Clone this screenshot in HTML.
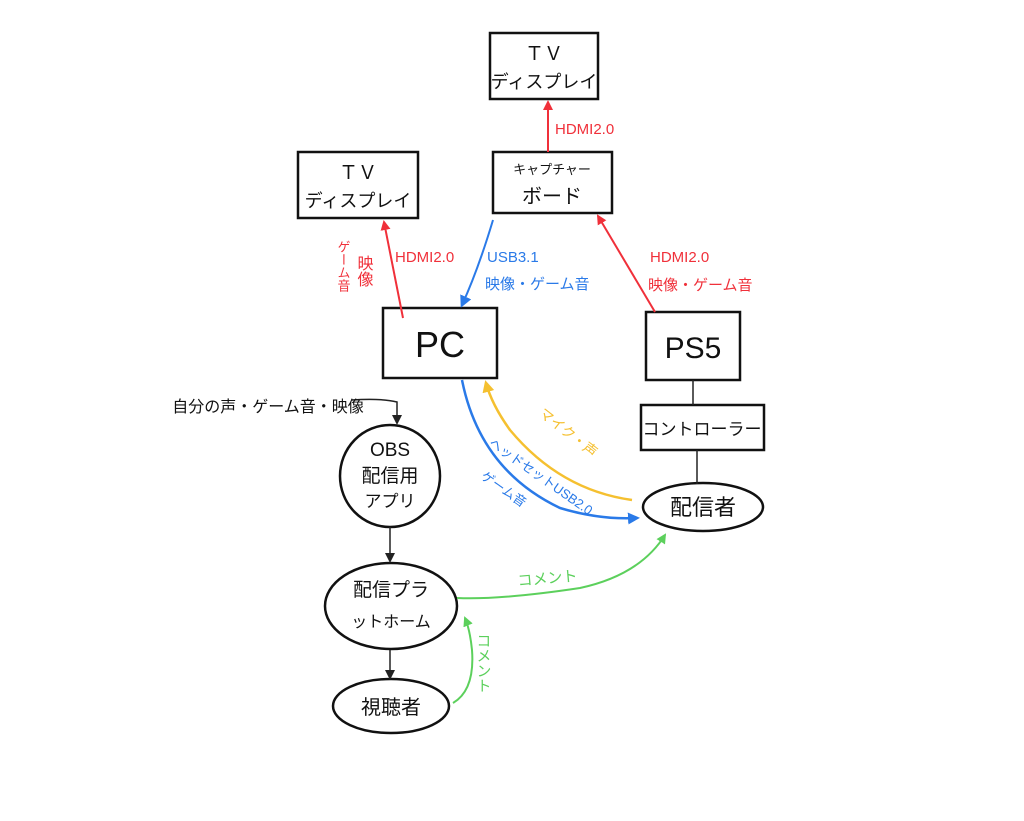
<!DOCTYPE html>
<html><head><meta charset="utf-8"><style>
html,body{margin:0;padding:0;background:#fff;}
svg{display:block;}
text{font-family:"Liberation Sans","Noto Sans CJK JP",sans-serif;}
</style></head><body>
<svg width="1024" height="821" viewBox="0 0 1024 821" xmlns="http://www.w3.org/2000/svg">
<defs>
<marker id="ar" markerWidth="10" markerHeight="10" refX="8" refY="5" orient="auto" markerUnits="userSpaceOnUse"><path d="M0,0 L10,5 L0,10 z" fill="#f0303a"/></marker>
<marker id="ab" markerWidth="12" markerHeight="12" refX="9" refY="6" orient="auto" markerUnits="userSpaceOnUse"><path d="M0,0 L12,6 L0,12 z" fill="#2a7ae8"/></marker>
<marker id="ay" markerWidth="12" markerHeight="12" refX="9" refY="6" orient="auto" markerUnits="userSpaceOnUse"><path d="M0,0 L12,6 L0,12 z" fill="#f5c030"/></marker>
<marker id="ag" markerWidth="10" markerHeight="10" refX="8" refY="5" orient="auto" markerUnits="userSpaceOnUse"><path d="M0,0 L10,5 L0,10 z" fill="#5cd05c"/></marker>
<marker id="ak" markerWidth="10" markerHeight="10" refX="8" refY="5" orient="auto" markerUnits="userSpaceOnUse"><path d="M0,0 L10,5 L0,10 z" fill="#222"/></marker>
</defs>
<g fill="none" stroke="#111" stroke-width="2.5">
<rect x="490" y="33" width="108" height="66"/>
<rect x="493" y="152" width="119" height="61"/>
<rect x="298" y="152" width="120" height="66"/>
<rect x="383" y="308" width="114" height="70"/>
<rect x="646" y="312" width="94" height="68"/>
<rect x="641" y="405" width="123" height="45"/>
<ellipse cx="703" cy="507" rx="60" ry="24"/>
<ellipse cx="390" cy="476" rx="50" ry="51"/>
<ellipse cx="391" cy="606" rx="66" ry="43"/>
<ellipse cx="391" cy="706" rx="58" ry="27"/>
</g>
<g stroke="#222" stroke-width="1.5" fill="none">
<line x1="693" y1="380" x2="693" y2="405"/>
<line x1="697" y1="450" x2="697" y2="484"/>
<path d="M352,400 Q380,398 397,402 L397,423" marker-end="url(#ak)"/>
<line x1="390" y1="527" x2="390" y2="561" marker-end="url(#ak)"/>
<line x1="390" y1="650" x2="390" y2="678" marker-end="url(#ak)"/>
</g>
<g stroke-width="2" fill="none">
<line x1="548" y1="152" x2="548" y2="102" stroke="#f0303a" marker-end="url(#ar)"/>
<line x1="403" y1="318" x2="384" y2="222" stroke="#f0303a" marker-end="url(#ar)"/>
<line x1="655" y1="312" x2="598" y2="216" stroke="#f0303a" marker-end="url(#ar)"/>
<path d="M493,220 Q478,270 462,305" stroke="#2a7ae8" marker-end="url(#ab)"/>
<path d="M462,380 Q480,470 560,508 Q600,520 637,518" stroke="#2a7ae8" stroke-width="2.5" marker-end="url(#ab)"/>
<path d="M632,500 Q560,490 510,430 Q492,405 486,383" stroke="#f5c030" stroke-width="2.5" marker-end="url(#ay)"/>
<path d="M457,598 Q500,600 580,588 Q640,575 665,535" stroke="#5cd05c" marker-end="url(#ag)"/>
<path d="M453,703 Q475,690 472,650 Q470,630 465,618" stroke="#5cd05c" marker-end="url(#ag)"/>
</g>
<g fill="#111" text-anchor="middle">
<text x="544" y="60" font-size="19">ＴＶ</text>
<text x="544" y="88" font-size="18">ディスプレイ</text>
<text x="358" y="179" font-size="19">ＴＶ</text>
<text x="358" y="207" font-size="18">ディスプレイ</text>
<text x="552" y="174" font-size="13">キャプチャー</text>
<text x="552" y="203" font-size="20">ボード</text>
<text x="440" y="357" font-size="36">PC</text>
<text x="693" y="358" font-size="30">PS5</text>
<text x="702" y="435" font-size="17">コントローラー</text>
<text x="703" y="515" font-size="22">配信者</text>
<text x="390" y="456" font-size="19">OBS</text>
<text x="390" y="482" font-size="19">配信用</text>
<text x="390" y="507" font-size="17">アプリ</text>
<text x="391" y="596" font-size="19">配信プラ</text>
<text x="391" y="627" font-size="16">ットホーム</text>
<text x="391" y="714" font-size="20">視聴者</text>
<text x="268" y="412" font-size="16">自分の声・ゲーム音・映像</text>
</g>
<g fill="#f0303a" font-size="15">
<text x="555" y="134">HDMI2.0</text>
<text x="395" y="262">HDMI2.0</text>
<text x="650" y="262">HDMI2.0</text>
<text x="648" y="290">映像・ゲーム音</text>
<text x="363" y="255" font-size="16" writing-mode="tb">映像</text>
<text x="343" y="240" font-size="13" writing-mode="tb">ゲーム音</text>
</g>
<g fill="#2a7ae8" font-size="15">
<text x="487" y="262">USB3.1</text>
<text x="485" y="289">映像・ゲーム音</text>
<text x="0" y="0" transform="translate(488,445) rotate(35)" font-size="13">ヘッドセットUSB2.0</text>
<text x="0" y="0" transform="translate(480,478) rotate(35)" font-size="13">ゲーム音</text>
</g>
<text x="0" y="0" transform="translate(538,415) rotate(38)" font-size="14" fill="#f5c030">マイク・声</text>
<g fill="#5cd05c" font-size="15">
<text x="0" y="0" transform="translate(518,586) rotate(-5)">コメント</text>
<text x="483" y="633" writing-mode="tb">コメント</text>
</g>
</svg>
</body></html>
